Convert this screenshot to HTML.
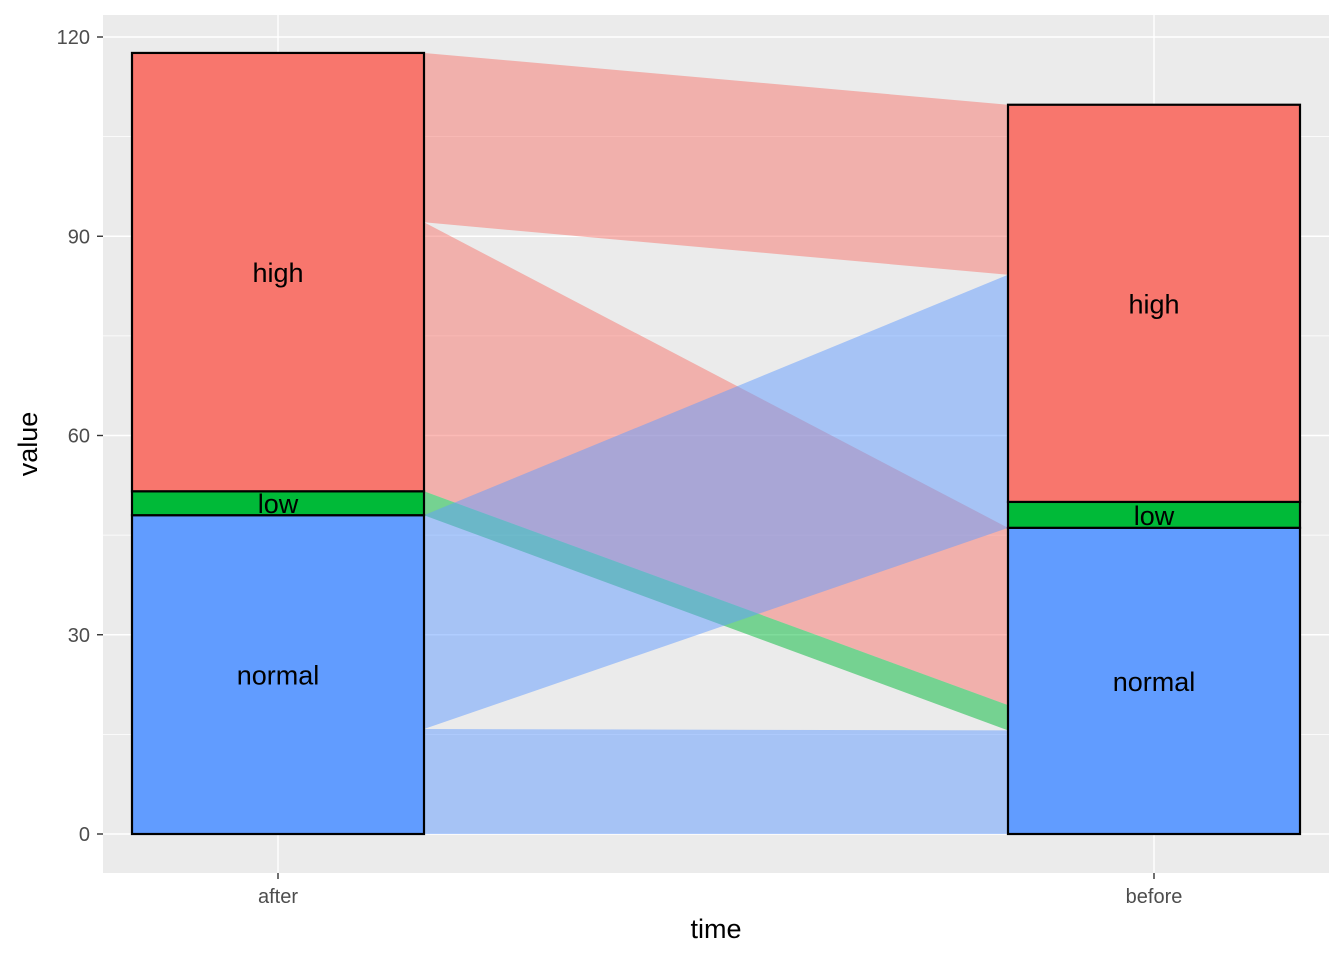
<!DOCTYPE html>
<html><head><meta charset="utf-8"><style>body{margin:0;background:#fff}svg{display:block;font-family:"Liberation Sans",sans-serif}</style></head>
<body>
<svg id="chart" width="1344" height="960"></svg>
<script>
const times = ["after","before"];
const strataNames = ["normal","low","high"];
const afterValues = [48.0, 3.6, 66.0];
const beforeValues = [46.1, 3.9, 59.8];
const yTicks = [0,30,60,90,120];
const flowFrom = ["normal","low","high","normal","high"];
const flowTo = ["normal","normal","normal","high","high"];
const flowA0 = [0, 48.0, 51.6, 15.8, 92.1];
const flowA1 = [15.8, 51.6, 92.1, 48.0, 117.6];
const flowB0 = [0, 15.6, 19.4, 46.1, 84.2];
const flowB1 = [15.6, 19.4, 46.1, 84.2, 109.8];
const drawOrder = [2,4,1,0,3];
const colors = {high:"#F8766D", low:"#00BA38", normal:"#619CFF"};
const NS="http://www.w3.org/2000/svg", svg=document.getElementById('chart');
const px0=103,px1=1329,py0=15,py1=873;
const y=v=>834-v*(797/120);
const xc=[278,1154], hw=146;
function mk(t,a,p){const e=document.createElementNS(NS,t);for(const k in a)e.setAttribute(k,a[k]);(p||svg).appendChild(e);return e;}
const panel=mk('rect',{x:px0,y:py0,width:px1-px0,height:py1-py0,fill:'#EBEBEB'});


for(let i=0;i<yTicks.length-1;i++){const m=(yTicks[i]+yTicks[i+1])/2;const l=mk('line',{x1:px0,x2:px1,y1:y(m),y2:y(m),stroke:'#fff','stroke-width':0.7});

}
yTicks.forEach(t=>{const l=mk('line',{x1:px0,x2:px1,y1:y(t),y2:y(t),stroke:'#fff','stroke-width':1.4});


const tk=mk('line',{x1:97,x2:103,y1:y(t),y2:y(t),stroke:'#333','stroke-width':1.4});


const tx=mk('text',{x:90,y:y(t)+7,'text-anchor':'end','font-size':20,fill:'#4D4D4D'});tx.textContent=t;

});
times.forEach((t,i)=>{const l=mk('line',{x1:xc[i],x2:xc[i],y1:py0,y2:py1,stroke:'#fff','stroke-width':1.4});


const tk=mk('line',{x1:xc[i],x2:xc[i],y1:873,y2:879,stroke:'#333','stroke-width':1.4});


const tx=mk('text',{x:xc[i],y:903,'text-anchor':'middle','font-size':20,fill:'#4D4D4D'});tx.textContent=t;

});
const xa=xc[0]+hw, xb=xc[1]-hw;
drawOrder.forEach(i=>{const p=mk('polygon',{points:`${xa},${y(flowA0[i])} ${xa},${y(flowA1[i])} ${xb},${y(flowB1[i])} ${xb},${y(flowB0[i])}`,fill:colors[flowFrom[i]],'fill-opacity':0.5});

});
[afterValues,beforeValues].forEach((vals,ti)=>{let c=0;vals.forEach((v,si)=>{const s=strataNames[si];
const r=mk('rect',{x:xc[ti]-hw,y:y(c+v),width:2*hw,height:y(c)-y(c+v),fill:colors[s],stroke:'#000','stroke-width':2.2});


const tx=mk('text',{x:xc[ti],y:(y(c)+y(c+v))/2+10,'text-anchor':'middle','font-size':27,fill:'#000'});tx.textContent=s;


c+=v;});});
const xt=mk('text',{x:716,y:938,'text-anchor':'middle','font-size':27,fill:'#000'});xt.textContent='time';


const yt=mk('text',{x:0,y:0,'text-anchor':'middle','font-size':27,fill:'#000',transform:'translate(37,444) rotate(-90)'});yt.textContent='value';


</script>
</body></html>
